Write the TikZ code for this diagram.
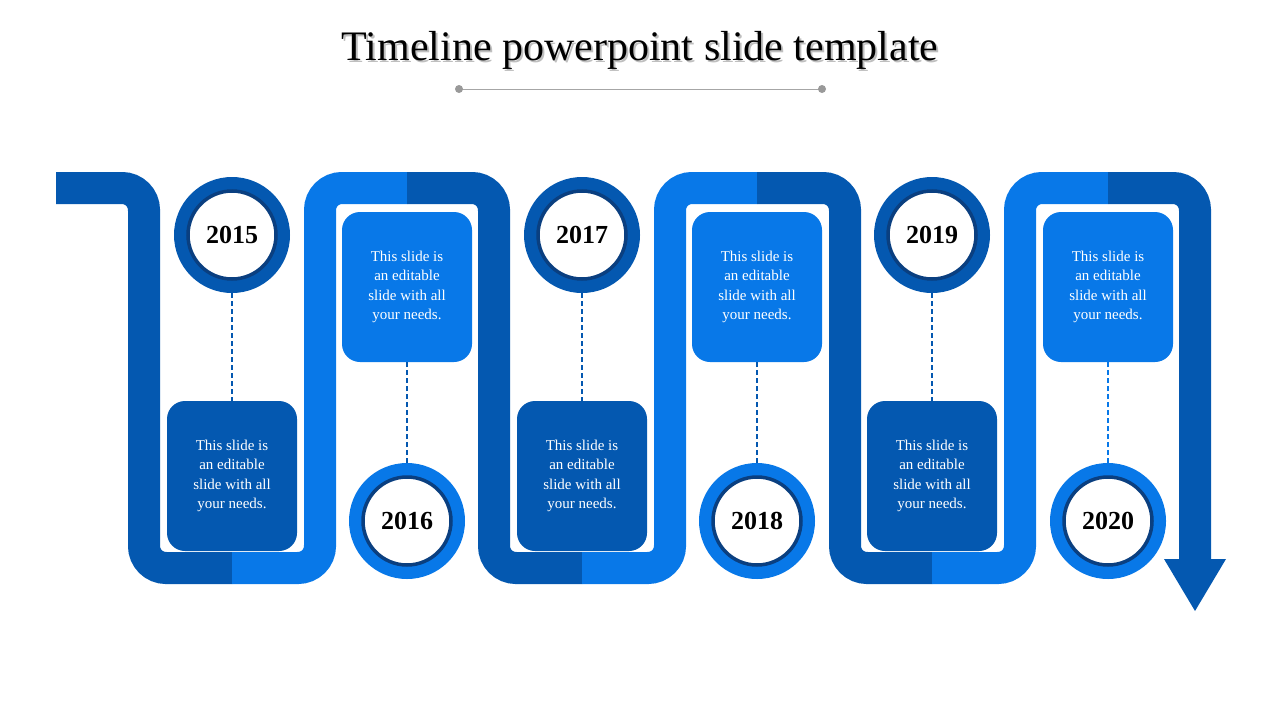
\documentclass[tikz,border=0pt]{standalone}
\usepackage{fontspec}
\setmainfont{Liberation Serif}
\definecolor{dk}{HTML}{0458B0}
\definecolor{lt}{HTML}{0878E8}
\definecolor{rim}{HTML}{0A3F80}
\begin{document}
\begin{tikzpicture}[x=1pt,y=-1pt,
  band/.style={line width=32pt,rounded corners=22pt},
  txtbox/.style={rounded corners=18pt,minimum width=130pt,text=white,align=center,font=\fontsize{15}{19.5}\selectfont},
  yr/.style={circle,minimum size=116pt,line width=0pt},
  inner/.style={circle,fill=white,minimum size=88pt,line width=3.5pt,font=\bfseries\fontsize{26}{26}\selectfont},
  dsh/.style={dashed,line width=2.2pt,dash pattern=on 5pt off 3pt}]
\useasboundingbox[fill=white] (0,0) rectangle (1280,720);
\node[font=\fontsize{42}{42}\selectfont,text=black!25] (shadow) at (642,52) {Timeline powerpoint slide template};
\node[font=\fontsize{42}{42}\selectfont] (title) at (640,50) {Timeline powerpoint slide template};
\coordinate (la) at (459,89); \coordinate (lb) at (822,89);
\draw[gray!70,line width=1pt] (la) -- (lb);
\fill[gray!80] (la) circle (4pt) (lb) circle (4pt);
% band
\draw[band,dk] (56,188) -- (144,188) -- (144,568) -- (232,568);
\draw[band,lt] (232,568) -- (320,568) -- (320,188) -- (407,188);
\draw[band,dk] (407,188) -- (494,188) -- (494,568) -- (582,568);
\draw[band,lt] (582,568) -- (670,568) -- (670,188) -- (757,188);
\draw[band,dk] (757,188) -- (845,188) -- (845,568) -- (932,568);
\draw[band,lt] (932,568) -- (1020,568) -- (1020,188) -- (1108,188);
\draw[band,dk] (1108,188) -- (1195,188) -- (1195,560);
\fill[dk] (1164,559) -- (1226,559) -- (1195,611) -- cycle;
% boxes and circles
\foreach \i/\x/\yb/\yc/\fc/\rc/\dc in {1/232/476/235/dk/dk/dk,2/407/287/521/lt/lt/dk,3/582/476/235/dk/dk/dk,4/757/287/521/lt/lt/dk,5/932/476/235/dk/dk/dk,6/1108/287/521/lt/lt/lt}{
  \node[txtbox,fill=\fc,minimum height=150pt] (b\i) at (\x,\yb) {This slide is\\an editable\\slide with all\\your needs.};
  \node[yr,fill=\rc] (c\i) at (\x,\yc) {};
  \draw[dsh,\dc] (c\i) -- (b\i);
}
\foreach \i/\t in {1/2015,2/2016,3/2017,4/2018,5/2019,6/2020}{
  \node[inner,draw=rim] (y\i) at (c\i) {\t};
}
\end{tikzpicture}
\end{document}
